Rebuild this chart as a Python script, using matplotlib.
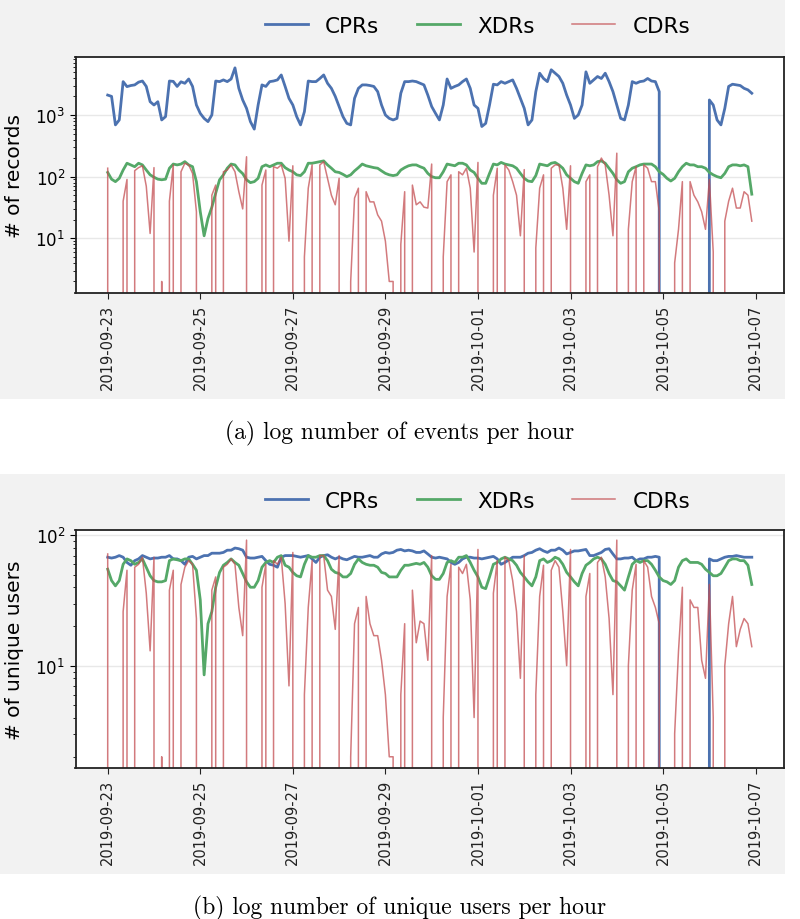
import numpy as np
import pandas as pd
import matplotlib
matplotlib.use("Agg")
import matplotlib.pyplot as plt
import matplotlib.dates as mdates
from matplotlib.patches import Rectangle

# values, one row per day (2019-09-23 .. 2019-10-06), every 2 hours
cpr_events = [
    2100, 2000, 690, 830, 3470, 2880, 3000, 3070, 3400, 3550, 2900, 1640,
    1450, 1640, 830, 940, 3550, 3500, 2900, 3450, 3260, 3830, 2900, 1450,
    1060, 880, 780, 1000, 3550, 3470, 3700, 3470, 3830, 5800, 2700, 1750,
    1280, 780, 590, 1450, 3070, 2900, 3470, 3550, 3700, 4450, 2900, 1860,
    1450, 940, 690, 1130, 3550, 3470, 3470, 3900, 4450, 3260, 2700, 2000,
    1370, 940, 730, 690, 1860, 2700, 3070, 3070, 3000, 2900, 2390, 1450,
    1000, 880, 830, 880, 2250, 3470, 3470, 3550, 3470, 3260, 3070, 2100,
    1370, 1060, 830, 1450, 3830, 2700, 2900, 3070, 3470, 3830, 2700, 1450,
    1280, 650, 730, 1450, 3150, 3070, 3470, 3260, 3470, 3700, 2700, 1860,
    1280, 690, 830, 2390, 4750, 3900, 3470, 5400, 4750, 4200, 3260, 2100,
    1450, 880, 1000, 1450, 5000, 3260, 3700, 4200, 3900, 4750, 3470, 2390,
    1450, 880, 830, 1450, 3470, 3260, 3470, 3550, 3900, 3550, 3470, 2390,
    0, 0, 0, 0, 0, 0, 0, 0, 0, 0, 0, 0,
    1750, 1450, 830, 690, 1280, 2900, 3150, 3070, 3000, 2700, 2550, 2250,
]
xdr_events = [
    117, 91, 83, 94, 128, 165, 155, 145, 165, 155, 128, 107,
    98, 91, 89, 91, 137, 160, 155, 160, 175, 155, 145, 83,
    27, 11, 21, 32, 54, 89, 107, 137, 160, 155, 128, 112,
    89, 80, 83, 94, 145, 155, 145, 155, 165, 165, 140, 128,
    120, 107, 104, 120, 165, 165, 170, 175, 180, 155, 137, 120,
    117, 109, 100, 107, 124, 140, 160, 150, 145, 140, 137, 124,
    113, 107, 104, 107, 128, 140, 150, 155, 155, 145, 137, 113,
    100, 96, 96, 120, 160, 155, 150, 165, 165, 155, 128, 117,
    94, 78, 78, 113, 160, 155, 170, 160, 155, 150, 137, 113,
    94, 85, 83, 104, 160, 155, 150, 165, 170, 155, 137, 107,
    94, 83, 78, 113, 155, 150, 155, 175, 180, 165, 137, 113,
    89, 78, 83, 120, 137, 145, 155, 160, 160, 160, 145, 120,
    109, 94, 85, 94, 120, 145, 165, 155, 155, 145, 145, 137,
    117, 107, 100, 96, 113, 145, 155, 155, 150, 155, 145, 52,
]
cdr_events = [
    137, 0, 0, 0, 40, 90, 0, 125, 140, 150, 70, 12,
    140, 0, 2, 0, 40, 155, 0, 120, 165, 155, 113, 27,
    0, 0, 0, 50, 73, 0, 120, 128, 155, 120, 57, 30,
    210, 0, 0, 0, 73, 128, 0, 145, 137, 155, 94, 9,
    150, 0, 0, 5, 65, 155, 0, 155, 175, 94, 50, 35,
    94, 0, 0, 2, 45, 65, 0, 57, 39, 39, 24, 19,
    9, 2, 2, 0, 8, 57, 0, 73, 35, 39, 32, 31,
    160, 0, 0, 5, 83, 107, 0, 120, 107, 137, 65, 6,
    170, 0, 0, 0, 50, 137, 0, 155, 128, 83, 50, 11,
    130, 0, 0, 7, 65, 107, 0, 137, 155, 155, 65, 14,
    150, 0, 0, 0, 83, 107, 0, 145, 200, 155, 50, 11,
    240, 0, 0, 14, 83, 145, 0, 155, 137, 83, 83, 27,
    0, 0, 0, 4, 14, 83, 0, 83, 50, 39, 27, 14,
    90, 6, 0, 0, 19, 40, 65, 31, 31, 57, 50, 19,
]

cpr_users = [
    68, 67, 68, 70, 68, 62, 59, 64, 66, 70, 68, 66,
    67, 67, 68, 68, 70, 66, 66, 64, 60, 68, 69, 66,
    68, 70, 70, 73, 73, 73, 74, 77, 77, 80, 79, 77,
    68, 67, 67, 68, 69, 64, 60, 59, 57, 68, 70, 70,
    70, 69, 68, 69, 70, 66, 62, 68, 70, 71, 68, 66,
    68, 66, 65, 67, 69, 68, 68, 69, 70, 68, 68, 72,
    74, 73, 74, 77, 78, 76, 77, 76, 74, 74, 76, 72,
    68, 67, 68, 67, 66, 62, 60, 62, 66, 68, 68, 67,
    67, 66, 67, 68, 69, 66, 60, 62, 65, 68, 68, 68,
    70, 73, 74, 77, 79, 76, 74, 77, 77, 80, 77, 72,
    74, 76, 76, 77, 78, 70, 70, 72, 74, 78, 79, 72,
    66, 66, 67, 67, 68, 64, 66, 66, 68, 68, 69, 68,
    0, 0, 0, 0, 0, 0, 0, 0, 0, 0, 0, 0,
    66, 64, 64, 66, 68, 69, 69, 70, 69, 68, 68, 68,
]
xdr_users = [
    55, 45, 41, 45, 60, 66, 64, 60, 62, 66, 57, 49,
    45, 44, 44, 45, 64, 66, 65, 64, 66, 66, 60, 54,
    32, 8.5, 21, 26, 40, 52, 59, 62, 66, 62, 59, 51,
    44, 40, 40, 45, 57, 62, 64, 62, 68, 70, 59, 57,
    52, 49, 48, 60, 70, 68, 68, 70, 70, 64, 55, 52,
    51, 48, 48, 51, 60, 66, 62, 60, 59, 59, 57, 52,
    51, 48, 48, 48, 54, 59, 59, 60, 61, 60, 62, 57,
    49, 46, 46, 51, 62, 64, 62, 68, 68, 70, 62, 54,
    48, 40, 39, 48, 60, 62, 66, 68, 66, 64, 59, 52,
    48, 44, 41, 48, 64, 66, 62, 64, 68, 66, 60, 52,
    48, 44, 41, 51, 59, 62, 66, 68, 66, 60, 51, 45,
    44, 41, 38, 48, 60, 64, 62, 64, 64, 60, 54, 48,
    45, 44, 42, 45, 57, 64, 66, 62, 62, 62, 60, 55,
    52, 49, 49, 51, 57, 64, 66, 66, 64, 64, 59, 42,
]
cdr_users = [
    72, 0, 0, 0, 26, 54, 0, 57, 60, 68, 36, 13,
    68, 0, 2, 0, 38, 54, 0, 42, 57, 64, 60, 23,
    0, 0, 0, 38, 48, 0, 57, 60, 66, 60, 28, 17,
    92, 0, 0, 0, 40, 60, 0, 64, 60, 68, 30, 7,
    74, 0, 0, 6, 28, 64, 0, 70, 70, 38, 34, 19,
    70, 0, 0, 2, 21, 28, 0, 34, 21, 17, 17, 11,
    6, 2, 2, 0, 6, 21, 0, 38, 15, 22, 21, 11,
    70, 0, 0, 4, 34, 60, 0, 57, 51, 60, 32, 4,
    78, 0, 0, 0, 36, 64, 0, 68, 64, 45, 26, 8,
    70, 0, 0, 6, 34, 59, 0, 54, 64, 57, 26, 10,
    78, 0, 0, 0, 34, 51, 0, 62, 68, 48, 23, 6,
    92, 0, 0, 10, 38, 60, 0, 64, 57, 34, 28, 21,
    0, 0, 0, 3, 13, 40, 0, 32, 28, 28, 11, 8,
    42, 4, 0, 0, 10, 21, 34, 14, 19, 23, 21, 14,
]

series_names = ["CPRs", "XDRs", "CDRs"]
captions = ["(a) log number of events per hour",
            "(b) log number of unique users per hour"]

times = pd.date_range("2019-09-23", periods=len(cpr_events), freq="2h")
tick_dates = pd.date_range("2019-09-23", "2019-10-07", freq="2D")

W, H = 800, 920
fig = plt.figure(figsize=(W / 100, H / 100), dpi=100, facecolor="white")

# grey backgrounds of the two sub-figures (behind the axes)
for top, height in [(0, 400), (475, 400)]:
    fig.patches.append(Rectangle((0, 1 - (top + height) / H), 785 / W, height / H,
                                 transform=fig.transFigure, facecolor="#f2f2f2",
                                 edgecolor="none", zorder=-5))


def draw_panel(rect, cpr, xdr, cdr, ylabel, ylim, legend_y, caption, caption_y):
    ax = fig.add_axes(rect, facecolor="white")
    l1, = ax.plot(times, cpr, color="#4c72b0", lw=2.0)
    l2, = ax.plot(times, xdr, color="#55a868", lw=2.0)
    l3, = ax.plot(times, cdr, color="#c44e52", lw=1.1, alpha=0.75)
    ax.set_yscale("log")
    ax.set_ylim(ylim)
    ax.grid(axis="y", which="major", color="#e8e8e8", lw=1)
    ax.set_axisbelow(True)
    ax.set_xticks(tick_dates)
    ax.xaxis.set_major_formatter(mdates.DateFormatter("%Y-%m-%d"))
    ax.tick_params(axis="x", labelsize=10.5, rotation=90, length=4, colors="#222222")
    ax.tick_params(axis="y", which="major", labelsize=12, length=4)
    ax.tick_params(axis="y", which="minor", length=2)
    for sp in ax.spines.values():
        sp.set_color("#222222")
        sp.set_linewidth(1.3)
    ax.set_ylabel(ylabel, fontsize=14.5, labelpad=8)
    fig.legend([l1, l2, l3], series_names, loc="center",
               bbox_to_anchor=(0.597, legend_y), ncol=3, frameon=False,
               fontsize=15.5, columnspacing=1.75)
    fig.text(0.5, caption_y, caption, ha="center", va="center",
             fontfamily="cmr10", fontsize=17)
    return ax


draw_panel([75.5 / W, 1 - 294 / H, 708.5 / W, 236 / H],
           cpr_events, xdr_events, cdr_events, "# of records", (1.3, 8700),
           1 - 27 / H, captions[0], 1 - 433 / H)
draw_panel([75.5 / W, 1 - 769 / H, 708.5 / W, 238 / H],
           cpr_users, xdr_users, cdr_users, "# of unique users", (1.64, 110),
           1 - 502 / H, captions[1], 1 - 908 / H)

fig.savefig("out.png", dpi=100, facecolor="white")
